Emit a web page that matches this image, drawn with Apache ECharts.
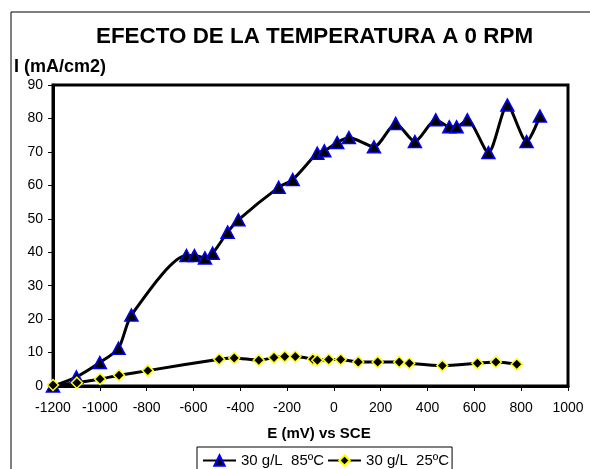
<!DOCTYPE html>
<html>
<head>
<meta charset="utf-8">
<script src="https://cdn.jsdelivr.net/npm/echarts@6/dist/echarts.min.js"></script>
<style>html,body{margin:0;padding:0;background:#fff}#c{width:590px;height:469px}</style>
</head>
<body>
<div id="c"></div>
<script>
const titleText = 'EFECTO DE LA TEMPERATURA A 0 RPM';
const yName = 'I (mA/cm2)';
const xName = 'E (mV) vs SCE';
const seriesNames = ['30 g/L  85ºC', '30 g/L  25ºC'];
const xTicks = { min: -1200, max: 1000, interval: 200 };
const yTicks = { min: 0, max: 90, interval: 10 };
const s85x = [-1200,-1100,-1000,-920,-865,-630,-596,-551,-518,-454,-408,-236,-176,-71,-41,14,64,171,264,346,435,493,524,570,660,741,823,880];
const s85y = [0,2.7,7,11.3,21.2,39,39,38.3,39.7,46,49.7,59.4,61.7,69.6,70.3,72.8,74.3,71.5,78.5,73.1,79.6,77.5,77.5,79.6,69.8,84,73.1,80.7];
const s25x = [-1200,-1098,-999,-918,-795,-490,-426,-321,-256,-210,-165,-90,-71,-22,29,104,187,279,322,463,613,692,781];
const s25y = [0.3,1.0,2.1,3.2,4.6,8.0,8.4,7.7,8.5,8.8,8.8,8.0,7.7,7.9,7.9,7.2,7.2,7.2,6.8,6.1,6.8,7.2,6.5];

const zip = (xs, ys) => xs.map((x, i) => [x, ys[i]]);
const chart = echarts.init(document.getElementById('c'), null, {renderer: 'canvas'});
const font = 'Liberation Sans, Arial, sans-serif';
chart.setOption({
  backgroundColor: '#fff',
  animation: false,
  title: {
    text: titleText, left: 96, top: 26, padding: 0,
    textStyle: {fontFamily: font, fontSize: 22.4, fontWeight: 'bold', color: '#000'}
  },
  graphic: [
    {type: 'rect', shape: {x: 11, y: 12, width: 640, height: 520}, style: {fill: 'none', stroke: '#000', lineWidth: 1}, z: -1, silent: true},
    {type: 'text', left: 14, top: 58, style: {text: yName, font: 'bold 18px ' + font, fill: '#000'}},
    {type: 'text', x: 319, y: 434, style: {text: xName, font: 'bold 15px ' + font, fill: '#000', align: 'center', verticalAlign: 'middle'}}
  ],
  grid: {left: 53, right: 22, top: 85, bottom: 83, show: true, borderColor: '#000', borderWidth: 3, backgroundColor: '#fff'},
  xAxis: {
    type: 'value', min: xTicks.min, max: xTicks.max, interval: xTicks.interval,
    axisLine: {show: true, onZero: false, lineStyle: {color: '#000', width: 3}},
    axisTick: {show: true, inside: false, length: 5, lineStyle: {color: '#000', width: 1}},
    axisLabel: {color: '#000', fontFamily: font, fontSize: 14, margin: 15, formatter: v => String(v)},
    splitLine: {show: false}
  },
  yAxis: {
    type: 'value', min: yTicks.min, max: yTicks.max, interval: yTicks.interval,
    axisLine: {show: true, onZero: false, lineStyle: {color: '#000', width: 3}},
    axisTick: {show: true, inside: false, length: 5, lineStyle: {color: '#000', width: 1}},
    axisLabel: {color: '#000', fontFamily: font, fontSize: 14, margin: 10, formatter: v => String(v)},
    splitLine: {show: false}
  },
  legend: {
    left: 197, top: 447, orient: 'horizontal',
    padding: [6, 3, 20, 5], itemGap: 3, itemWidth: 33, itemHeight: 13,
    borderColor: '#000', borderWidth: 1, backgroundColor: '#fff',
    textStyle: {color: '#000', fontFamily: font, fontSize: 15, padding: [0, 0, 0, 0]},
    data: seriesNames
  },
  series: [
    {
      name: seriesNames[0], type: 'line', smooth: 0.25, data: zip(s85x, s85y),
      symbol: 'triangle', symbolSize: [13, 12], clip: false,
      lineStyle: {color: '#000', width: 3},
      itemStyle: {color: '#000', borderColor: '#0000FF', borderWidth: 1.5}
    },
    {
      name: seriesNames[1], type: 'line', smooth: 0.25, data: zip(s25x, s25y),
      symbol: 'diamond', symbolSize: 11, clip: false,
      lineStyle: {color: '#000', width: 3},
      itemStyle: {color: '#000', borderColor: '#FFFF00', borderWidth: 1.5}
    }
  ]
});
</script>
</body>
</html>
